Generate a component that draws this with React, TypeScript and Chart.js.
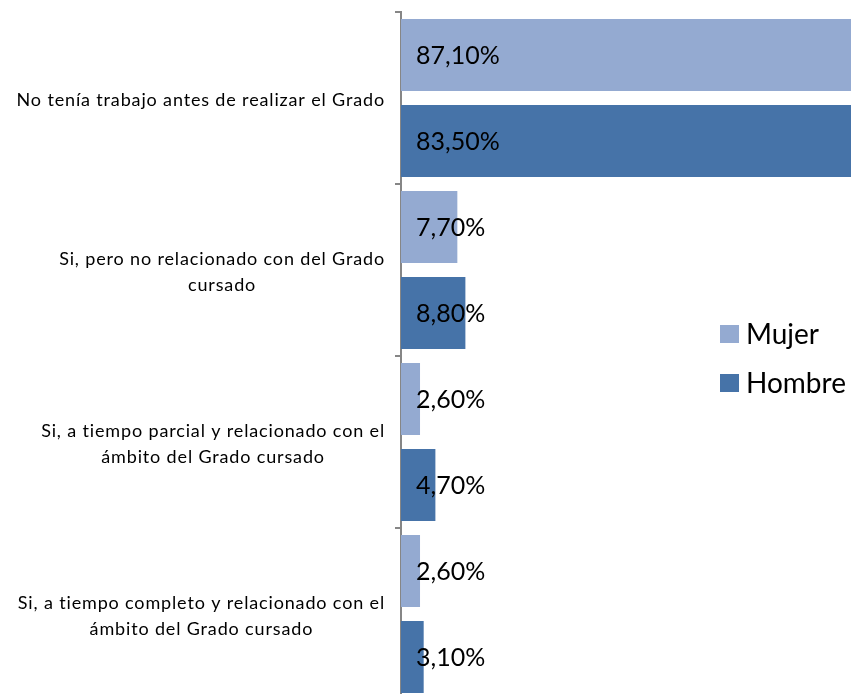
import React, { useEffect, useRef } from "react";
import { Chart, registerables } from "chart.js";

Chart.register(...registerables);

const categories: string[][] = [
  ["No tenía trabajo antes de realizar el Grado"],
  ["Si, pero no relacionado con del Grado", "cursado"],
  ["Si, a tiempo parcial y relacionado con el", "ámbito del Grado cursado"],
  ["Si, a tiempo completo y relacionado con el", "ámbito del Grado cursado"],
];
const seriesNames = ["Mujer", "Hombre"];
const mujerValues = [87.1, 7.7, 2.6, 2.6];
const hombreValues = [83.5, 8.8, 4.7, 3.1];
const seriesColors = ["#94AAD1", "#4673A8"];

const FONT = "Lato, 'Open Sans', sans-serif";

const fmt = (v: number) => v.toFixed(2).replace(".", ",") + "%";

const labelPlugin = {
  id: "customLabels",
  afterDraw(chart: any) {
    const ctx = chart.ctx as CanvasRenderingContext2D;
    const area = chart.chartArea;
    const yScale = chart.scales.y;
    ctx.save();
    // category labels
    ctx.font = `18px ${FONT}`;
    (ctx as any).letterSpacing = "0.85px";
    ctx.fillStyle = "#000";
    ctx.textBaseline = "middle";
    ctx.textAlign = "center";
    const rightEdge = area.left - 16;
    const lineH = 26;
    categories.forEach((lines, i) => {
      const cy = yScale.getPixelForValue(i) + 2;
      const maxW = Math.max(...lines.map((l) => ctx.measureText(l).width));
      const cx = rightEdge - maxW / 2;
      const startY = cy - ((lines.length - 1) * lineH) / 2;
      lines.forEach((l, j) => ctx.fillText(l, cx, startY + j * lineH));
    });
    (ctx as any).letterSpacing = "0px";
    // legend
    const legendX = 720;
    const legendYs = [334, 383];
    ctx.textAlign = "left";
    ctx.font = `28px ${FONT}`;
    seriesNames.forEach((name, i) => {
      ctx.fillStyle = seriesColors[i];
      ctx.fillRect(legendX, legendYs[i] - 9, 19, 18);
      ctx.fillStyle = "#000";
      ctx.fillText(name, legendX + 26, legendYs[i] + 1);
    });
    ctx.restore();
  },
  afterDatasetsDraw(chart: any) {
    const ctx = chart.ctx as CanvasRenderingContext2D;
    const area = chart.chartArea;
    ctx.save();
    ctx.font = `25px ${FONT}`;
    ctx.fillStyle = "#000";
    ctx.textAlign = "left";
    ctx.textBaseline = "middle";
    chart.data.datasets.forEach((ds: any, di: number) => {
      const meta = chart.getDatasetMeta(di);
      meta.data.forEach((el: any, i: number) => {
        ctx.fillText(fmt(ds.data[i]), area.left + 15, el.y + 1);
      });
    });
    ctx.restore();
  },
};

export default function App() {
  const ref = useRef<HTMLCanvasElement | null>(null);
  useEffect(() => {
    if (!ref.current) return;
    Chart.defaults.font.family = FONT;
    const chart = new Chart(ref.current, {
      type: "bar",
      data: {
        labels: categories.map((c) => c.join(" ")),
        datasets: [
          {
            label: seriesNames[0],
            data: mujerValues,
            backgroundColor: seriesColors[0],
            borderWidth: 0,
            categoryPercentage: 1,
            barPercentage: 0.835,
          },
          {
            label: seriesNames[1],
            data: hombreValues,
            backgroundColor: seriesColors[1],
            borderWidth: 0,
            categoryPercentage: 1,
            barPercentage: 0.835,
          },
        ],
      },
      options: {
        indexAxis: "y",
        animation: false,
        responsive: false,
        maintainAspectRatio: false,
        layout: { padding: { top: 12, bottom: 0, left: 0, right: 0 } },
        plugins: {
          legend: { display: false },
          tooltip: { enabled: false },
        },
        scales: {
          x: {
            display: false,
            min: 0,
            max: 61.5,
          },
          y: {
            type: "category",
            offset: true,
            grid: {
              offset: true,
              drawOnChartArea: false,
              drawTicks: true,
              tickLength: 6,
              color: "#868686",
              lineWidth: 2,
            },
            border: { display: true, color: "#868686", width: 2 },
            ticks: { display: false },
            afterFit: (scale: any) => {
              scale.width = 401;
            },
          },
        },
      },
      plugins: [labelPlugin],
    });
    return () => chart.destroy();
  }, []);
  return (
    <div
      style={{
        position: "fixed",
        left: 0,
        top: 0,
        width: 851,
        height: 694,
        overflow: "hidden",
        background: "#fff",
      }}
    >
      <canvas ref={ref} width={851} height={700} style={{ display: "block" }} />
    </div>
  );
}
